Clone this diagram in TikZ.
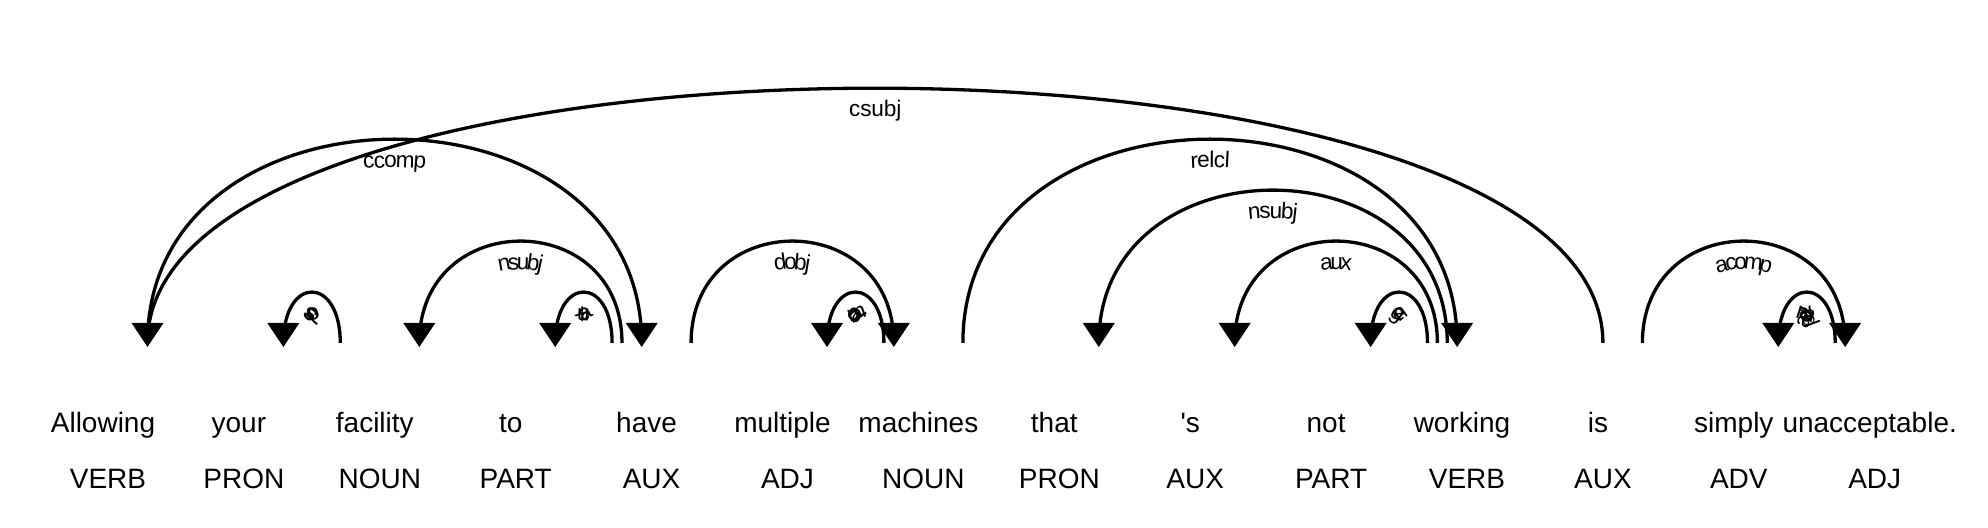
\documentclass[tikz,border=0pt]{standalone}
\usepackage{fontspec}
\newfontfamily\depfont{Liberation Sans}
\newfontfamily\labfam{Liberation Sans}[LetterSpace=8.8]
\newcommand{\labfont}{\labfam\fontsize{11.3}{13.5}\selectfont}
\usetikzlibrary{calc,decorations.text}

\tikzset{
  word/.style={font=\depfont\fontsize{14}{17}\selectfont, inner sep=0pt, anchor=base},
  arc/.style={line width=1.65pt},
  arclabel/.style={postaction={decorate, decoration={text along path, text align=center,
      raise=-14.15pt, text/.expanded={|\noexpand\labfont|#1}}}},
}

\begin{document}
\begin{tikzpicture}[x=0.5pt, y=-0.5pt]
  \useasboundingbox (0,0) rectangle (1988,528);
  % words, tags, and the foot of the arcs above each word
  \foreach \w/\t [count=\i from 0] in {Allowing/VERB, your/PRON, facility/NOUN, to/PART,
      have/AUX, multiple/ADJ, machines/NOUN, that/PRON, 's/AUX, not/PART, working/VERB,
      is/AUX, simply/ADV, unacceptable./ADJ} {
    \coordinate (b\i) at ({108+135.9*\i},343);
    \node[word] (w\i) at ({103+135.9*\i},432.5) {\w};
    \node[word] (t\i) at ({108+135.9*\i},488.5) {\t};
  }
  % arrow on the left word
  \foreach \a/\b/\lev/\rel in {0/11/5/csubj, 1/2/1/poss, 2/4/2/nsubj, 3/4/1/aux, 5/6/1/amod,
      7/10/3/nsubj, 8/10/2/aux, 9/10/1/neg, 12/13/1/advmod} {
    \draw[arc, arclabel=\rel] ($(b\a)+(39.5,0)$) .. controls +(0,{-67.95*\lev}) and +(0,{-67.95*\lev})
      .. ($(b\b)+({-9.875*(5-\lev)},0)$);
    \fill ($(b\a)+(39.5,4)$) -- ++(-16,-24) -- ++(32,0) -- cycle;
  }
  % arrow on the right word
  \foreach \a/\b/\lev/\rel in {0/4/4/ccomp, 4/6/2/dobj, 6/10/4/relcl, 11/13/2/acomp} {
    \draw[arc, arclabel=\rel] ($(b\a)+(39.5,0)$) .. controls +(0,{-67.95*\lev}) and +(0,{-67.95*\lev})
      .. ($(b\b)+({-9.875*(5-\lev)},0)$) coordinate (e);
    \fill ($(e)+(0,4)$) -- ++(-16,-24) -- ++(32,0) -- cycle;
  }
\end{tikzpicture}
\end{document}
